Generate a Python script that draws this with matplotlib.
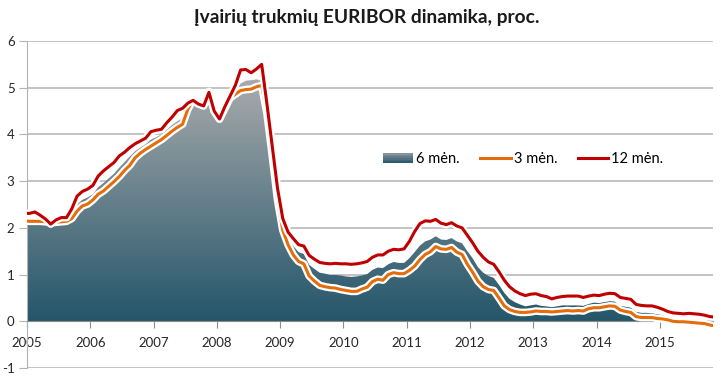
import numpy as np
import matplotlib
matplotlib.use("Agg")
import matplotlib.pyplot as plt
import matplotlib.patheffects as pe
from matplotlib.colors import LinearSegmentedColormap
from matplotlib.patches import Rectangle
from matplotlib.legend_handler import HandlerBase

# mėnesinės reikšmės, 2005-01 ... 2015-12 (6 mėn. iki 2015-09)
eur_3m = [
    2.15, 2.14, 2.14, 2.14, 2.13, 2.11, 2.12, 2.13, 2.14, 2.20, 2.36, 2.47,
    2.51, 2.60, 2.72, 2.79, 2.89, 2.99, 3.10, 3.23, 3.34, 3.50, 3.60, 3.68,
    3.75, 3.82, 3.89, 3.98, 4.07, 4.15, 4.22, 4.54, 4.74, 4.69, 4.64, 4.92,
    4.50, 4.33, 4.55, 4.78, 4.86, 4.94, 4.96, 4.97, 5.02, 5.05, 4.45, 3.55,
    2.60, 1.95, 1.64, 1.42, 1.28, 1.23, 0.97, 0.86, 0.77, 0.74, 0.72, 0.71,
    0.68, 0.66, 0.64, 0.64, 0.69, 0.73, 0.85, 0.90, 0.88, 1.00, 1.04, 1.02,
    1.02, 1.09, 1.18, 1.32, 1.43, 1.49, 1.60, 1.55, 1.54, 1.58, 1.48, 1.43,
    1.22, 1.05, 0.86, 0.74, 0.68, 0.66, 0.50, 0.33, 0.25, 0.21, 0.19, 0.19,
    0.20, 0.22, 0.21, 0.21, 0.20, 0.21, 0.22, 0.23, 0.22, 0.23, 0.22, 0.27,
    0.29, 0.29, 0.31, 0.33, 0.32, 0.24, 0.21, 0.19, 0.10, 0.08, 0.08, 0.08,
    0.06, 0.05, 0.03, 0.00, -0.01, -0.01, -0.02, -0.03, -0.04, -0.05, -0.08, -0.10,
]
eur_6m = [
    2.19, 2.18, 2.21, 2.17, 2.14, 2.10, 2.13, 2.16, 2.17, 2.27, 2.50, 2.60,
    2.65, 2.72, 2.87, 2.96, 3.06, 3.16, 3.29, 3.41, 3.53, 3.64, 3.72, 3.79,
    3.89, 3.94, 4.00, 4.10, 4.20, 4.28, 4.36, 4.59, 4.75, 4.66, 4.63, 4.88,
    4.49, 4.34, 4.57, 4.80, 4.92, 5.09, 5.15, 5.16, 5.18, 5.15, 4.55, 3.65,
    2.72, 2.03, 1.77, 1.61, 1.48, 1.44, 1.21, 1.12, 1.04, 1.02, 0.99, 0.99,
    0.98, 0.96, 0.95, 0.96, 0.98, 1.01, 1.10, 1.15, 1.14, 1.22, 1.27, 1.25,
    1.25, 1.35, 1.48, 1.62, 1.71, 1.75, 1.82, 1.75, 1.74, 1.78, 1.71, 1.67,
    1.50, 1.35, 1.16, 1.04, 0.97, 0.93, 0.78, 0.61, 0.48, 0.41, 0.36, 0.32,
    0.34, 0.36, 0.33, 0.32, 0.30, 0.32, 0.34, 0.34, 0.34, 0.34, 0.33, 0.37,
    0.40, 0.39, 0.41, 0.43, 0.42, 0.33, 0.31, 0.29, 0.20, 0.18, 0.18, 0.17,
    0.15, 0.13, 0.08, 0.07, 0.06, 0.05, 0.05, 0.04, 0.03,
]
eur_12m = [
    2.31, 2.31, 2.34, 2.27, 2.19, 2.08, 2.17, 2.22, 2.22, 2.41, 2.68, 2.78,
    2.83, 2.91, 3.11, 3.22, 3.31, 3.40, 3.54, 3.62, 3.72, 3.80, 3.86, 3.92,
    4.06, 4.09, 4.11, 4.25, 4.37, 4.51, 4.56, 4.67, 4.73, 4.65, 4.61, 4.90,
    4.50, 4.33, 4.59, 4.82, 5.05, 5.38, 5.39, 5.32, 5.40, 5.50, 4.65, 3.75,
    2.85, 2.20, 1.91, 1.77, 1.64, 1.61, 1.41, 1.33, 1.26, 1.24, 1.23, 1.24,
    1.23, 1.23, 1.22, 1.23, 1.25, 1.28, 1.37, 1.42, 1.42, 1.50, 1.54, 1.53,
    1.55, 1.71, 1.92, 2.09, 2.15, 2.14, 2.18, 2.10, 2.07, 2.11, 2.04, 2.00,
    1.84, 1.68, 1.50, 1.37, 1.27, 1.22, 1.06, 0.88, 0.74, 0.65, 0.59, 0.55,
    0.58, 0.59, 0.55, 0.53, 0.48, 0.51, 0.53, 0.54, 0.54, 0.54, 0.51, 0.54,
    0.56, 0.55, 0.58, 0.60, 0.59, 0.51, 0.49, 0.47, 0.36, 0.34, 0.33, 0.33,
    0.30, 0.26, 0.21, 0.18, 0.17, 0.16, 0.17, 0.16, 0.15, 0.13, 0.10, 0.09,
]
years = list(range(2005, 2016))
labels = ["6 mėn.", "3 mėn.", "12 mėn."]
title = "Įvairių trukmių EURIBOR dinamika, proc."

start_year = 2005
t3 = start_year + (np.arange(len(eur_3m)) - 0.5) / 12
t6 = start_year + (np.arange(len(eur_6m)) - 0.5) / 12
t12 = start_year + (np.arange(len(eur_12m)) - 0.5) / 12

plt.rcParams['font.family'] = ['Lato', 'DejaVu Sans']
plt.rcParams['axes.unicode_minus'] = False

grad_cmap = LinearSegmentedColormap.from_list("area", ["#24566a", "#a8aaac"])
grid_col = "#b3b3b3"

fig = plt.figure(figsize=(7.26, 3.77), dpi=100)
ax = fig.add_axes([27 / 726, 9 / 377, (713 - 27) / 726, (368 - 41) / 377])

# 6 mėn. plotas su gradientu
poly = ax.fill_between(t6, 0, eur_6m, facecolor="none", edgecolor="none")
ytop = max(eur_6m)
grad = np.linspace(0, 1, 256).reshape(-1, 1)
img = ax.imshow(grad, cmap=grad_cmap, origin="lower", aspect="auto",
                extent=[t6[0], t6[-1], 0, ytop], zorder=2)
img.set_clip_path(poly.get_paths()[0], transform=ax.transData)
ax.set_xlim(2005, 2015.84)
ax.set_ylim(-1, 6)

halo = [pe.withStroke(linewidth=5.5, foreground="white")]
ax.plot(t3, eur_3m, color="#e46c0a", lw=2.2, zorder=4, path_effects=halo)
ax.plot(t12, eur_12m, color="#c00000", lw=2.2, zorder=5, path_effects=halo)

# ašys ir tinklelis
ax.set_yticks(range(-1, 7))
ax.yaxis.grid(True, color=grid_col, lw=1.1)
ax.set_axisbelow(True)
for s in ["top", "right"]:
    ax.spines[s].set_visible(False)
ax.spines["left"].set_color(grid_col)
ax.spines["bottom"].set_position(("data", 0))
ax.spines["bottom"].set_color("#8c8c8c")
ax.spines["bottom"].set_zorder(3)
ax.set_xticks(years)
ax.set_xticklabels([str(y) for y in years])
ax.tick_params(axis="x", direction="out", length=5, color="#8c8c8c",
               labelsize=9.5, pad=6, labelcolor="#262626")
ax.tick_params(axis="y", direction="out", length=6, color=grid_col,
               labelsize=9.5, pad=3, labelcolor="#262626")


class GradientHandler(HandlerBase):
    def create_artists(self, legend, orig_handle, xdescent, ydescent,
                       width, height, fontsize, trans):
        arts = []
        n = 6
        for i in range(n):
            c = grad_cmap(1 - (i + 0.5) / n * 0.8 - 0.2)
            r = Rectangle((-xdescent, -ydescent + height * (n - 1 - i) / n),
                          width, height / n, facecolor=c, edgecolor="none",
                          transform=trans)
            arts.append(r)
        return arts


area_handle = Rectangle((0, 0), 1, 1)
line3, = ax.plot([], [], color="#e46c0a", lw=2.2)
line12, = ax.plot([], [], color="#c00000", lw=2.2)
ax.legend([area_handle, line3, line12], labels, loc="center",
          bbox_to_anchor=(0.723, 0.639), ncol=3, frameon=False,
          fontsize=10.5, handlelength=2.1, handletextpad=0.2,
          columnspacing=1.4, handler_map={Rectangle: GradientHandler()})

fig.text(0.505, 1 - 18 / 377, title, ha="center", va="center",
         fontsize=13.8, fontweight="bold", color="#1a1a1a")

fig.savefig("out.png", dpi=100)
